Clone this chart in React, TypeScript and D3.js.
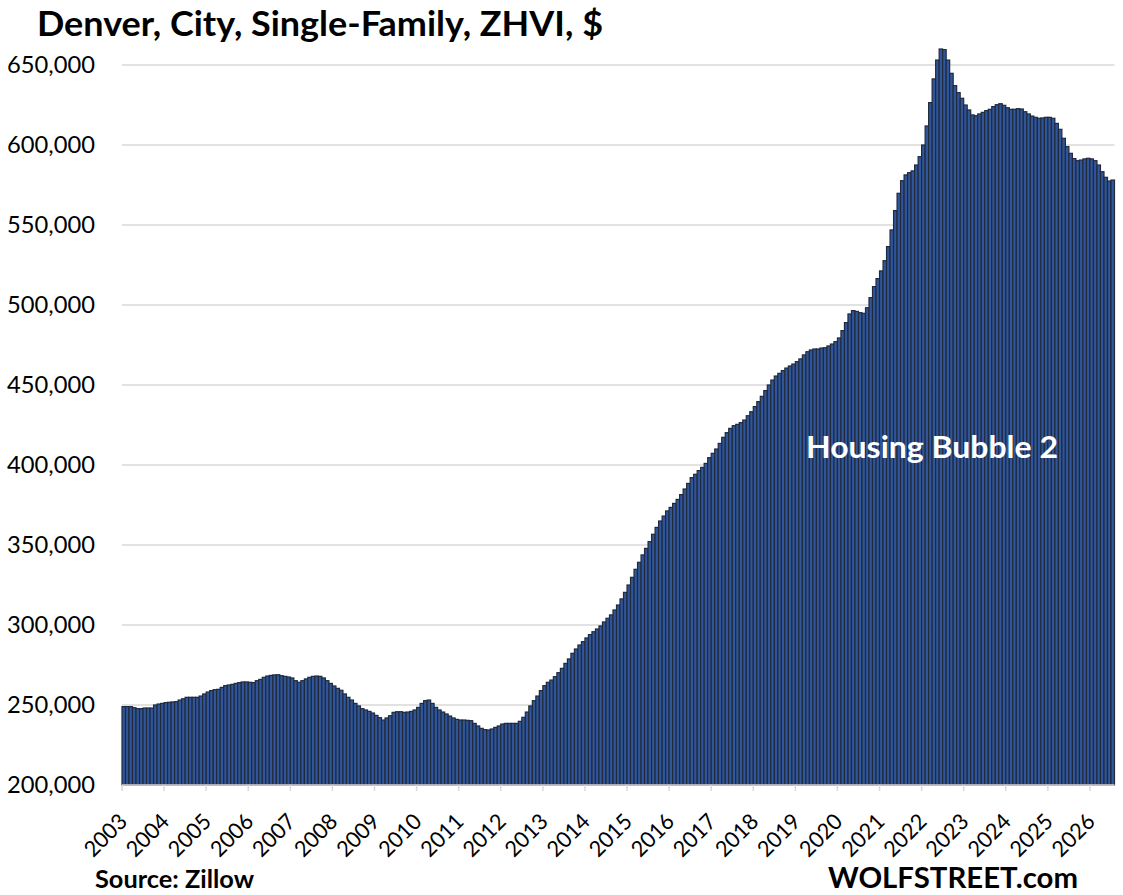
import React from "react";
import { scaleBand, scaleLinear, range } from "d3";

// Monthly ZHVI, in thousands of $ (Jan 2003 .. Jul 2026)
const y2003 = [249.0, 249.0, 249.0, 248.3, 247.7, 247.7, 248.1, 248.1, 248.1, 250.0, 250.6, 251.0];
const y2004 = [251.5, 251.7, 251.9, 252.1, 253.1, 253.9, 254.8, 254.8, 254.8, 254.8, 255.6, 256.9];
const y2005 = [258.1, 259.0, 259.6, 259.8, 261.0, 262.1, 262.5, 262.9, 263.5, 264.0, 264.4, 264.4];
const y2006 = [264.2, 264.0, 265.2, 266.0, 267.3, 268.1, 268.5, 268.8, 268.9, 268.3, 267.9, 267.5];
const y2007 = [266.9, 265.2, 264.2, 265.2, 266.3, 267.3, 267.9, 268.1, 267.9, 266.9, 265.2, 263.5];
const y2008 = [261.9, 260.4, 259.2, 256.9, 254.8, 253.1, 251.0, 249.4, 247.7, 246.9, 246.0, 245.0];
const y2009 = [243.5, 242.1, 240.6, 241.9, 243.3, 245.4, 245.8, 245.8, 245.4, 245.6, 246.0, 246.9];
const y2010 = [248.5, 251.0, 252.7, 253.1, 251.0, 248.5, 246.9, 245.6, 244.4, 243.1, 241.9, 241.0];
const y2011 = [240.6, 240.6, 240.4, 240.2, 238.5, 236.9, 235.4, 234.6, 234.4, 235.0, 236.0, 236.9];
const y2012 = [238.1, 238.5, 238.5, 238.5, 238.5, 239.8, 242.3, 245.6, 249.4, 252.7, 255.6, 259.0];
const y2013 = [262.1, 264.2, 265.6, 267.7, 270.2, 272.9, 276.0, 278.8, 282.3, 285.0, 287.5, 289.6];
const y2014 = [291.9, 294.0, 295.8, 297.5, 299.4, 301.9, 304.2, 306.3, 309.4, 312.5, 316.3, 320.4];
const y2015 = [325.0, 329.8, 334.8, 339.2, 343.8, 347.9, 352.1, 356.7, 361.0, 365.0, 368.1, 371.3];
const y2016 = [373.5, 376.0, 378.5, 381.5, 385.0, 388.5, 392.1, 394.2, 396.5, 398.5, 401.0, 404.6];
const y2017 = [407.3, 410.0, 413.5, 417.3, 420.2, 422.9, 424.6, 425.4, 426.5, 428.1, 430.8, 433.3];
const y2018 = [436.5, 439.6, 442.9, 446.5, 450.0, 453.1, 455.6, 457.3, 459.0, 460.6, 461.9, 463.1];
const y2019 = [464.6, 466.3, 468.8, 470.8, 471.9, 472.5, 472.5, 473.1, 473.3, 474.4, 475.6, 477.1];
const y2020 = [479.4, 484.0, 489.0, 494.4, 496.5, 496.0, 495.2, 494.8, 498.3, 504.6, 511.5, 516.5];
const y2021 = [521.3, 527.7, 536.5, 546.9, 559.0, 569.8, 577.7, 581.3, 582.7, 583.8, 587.5, 592.7];
const y2022 = [600.0, 611.9, 626.5, 641.3, 653.1, 660.0, 659.6, 653.1, 644.8, 637.1, 632.7, 629.2];
const y2023 = [625.0, 621.9, 618.8, 618.3, 619.4, 620.4, 621.5, 622.3, 624.0, 625.2, 625.8, 624.8];
const y2024 = [623.3, 622.3, 622.3, 622.7, 622.5, 620.8, 619.4, 618.1, 617.3, 616.7, 616.9, 617.3];
const y2025 = [617.3, 616.7, 613.5, 609.8, 604.2, 599.0, 594.8, 591.5, 590.2, 590.6, 591.3, 591.7];
const y2026 = [591.3, 590.2, 587.5, 583.3, 579.8, 577.5, 578.1];

const values = [
  ...y2003, ...y2004, ...y2005, ...y2006, ...y2007, ...y2008, ...y2009, ...y2010,
  ...y2011, ...y2012, ...y2013, ...y2014, ...y2015, ...y2016, ...y2017, ...y2018,
  ...y2019, ...y2020, ...y2021, ...y2022, ...y2023, ...y2024, ...y2025, ...y2026,
].map((v) => v * 1000);

const firstYear = 2003;
const years = range(2003, 2027);
const yTicks = [200000, 250000, 300000, 350000, 400000, 450000, 500000, 550000, 600000, 650000];

const font = "Lato, 'Open Sans', sans-serif";

export default function App() {
  const W = 1123;
  const H = 895;
  const left = 122;
  const right = 1114.5;
  const top = 65;
  const bottom = 785;

  const x = scaleBand<number>()
    .domain(values.map((_, i) => i))
    .range([left, right])
    .padding(0);
  const y = scaleLinear().domain([200000, 650000]).range([bottom, top]);
  const fmt = (v: number) => v.toLocaleString("en-US");

  return (
    <svg
      width={W}
      height={H}
      style={{ position: "absolute", left: 0, top: 0, background: "#fff" }}
      fontFamily={font}
    >
      {/* gridlines */}
      {yTicks.slice(1).map((t) => (
        <line key={t} x1={left} x2={right} y1={y(t)} y2={y(t)} stroke="#D9D9D9" strokeWidth={1.5} />
      ))}

      {/* bars */}
      {values.map((v, i) => (
        <rect
          key={i}
          x={x(i)!}
          y={y(v)}
          width={x.bandwidth()}
          height={bottom - y(v)}
          fill="#2F569B"
          stroke="#212A3C"
          strokeWidth={1.2}
        />
      ))}

      {/* x axis */}
      <line x1={left} x2={right} y1={bottom} y2={bottom} stroke="#D9D9D9" strokeWidth={1.5} />
      {years.map((yr) => {
        const tx = x((yr - firstYear) * 12)!;
        return (
          <g key={yr}>
            <line x1={tx} x2={tx} y1={bottom} y2={bottom + 6} stroke="#D9D9D9" strokeWidth={1.5} />
            <text
              transform={`translate(${tx + 6.5},${bottom + 38}) rotate(-45)`}
              textAnchor="end"
              fontSize={22}
              fill="#000"
              textLength={50}
              lengthAdjust="spacingAndGlyphs"
            >
              {yr}
            </text>
          </g>
        );
      })}

      {/* y labels */}
      {yTicks.map((t) => (
        <text key={t} x={95} y={y(t)} dy="0.36em" textAnchor="end" fontSize={23.5} fill="#000" textLength={88} lengthAdjust="spacingAndGlyphs">
          {fmt(t)}
        </text>
      ))}

      <text x={37} y={36} fontSize={34} fontWeight={700} fill="#000" textLength={566} lengthAdjust="spacingAndGlyphs">
        Denver, City, Single-Family, ZHVI, $
      </text>
      <text x={806} y={458} fontSize={31} fontWeight={700} fill="#fff" textLength={252} lengthAdjust="spacingAndGlyphs">
        Housing Bubble 2
      </text>
      <text x={95} y={888} fontSize={24} fontWeight={700} fill="#000" textLength={159} lengthAdjust="spacingAndGlyphs">
        Source: Zillow
      </text>
      <text x={828} y={888} fontSize={28} fontWeight={700} fill="#000" textLength={250} lengthAdjust="spacingAndGlyphs">
        WOLFSTREET.com
      </text>
    </svg>
  );
}
